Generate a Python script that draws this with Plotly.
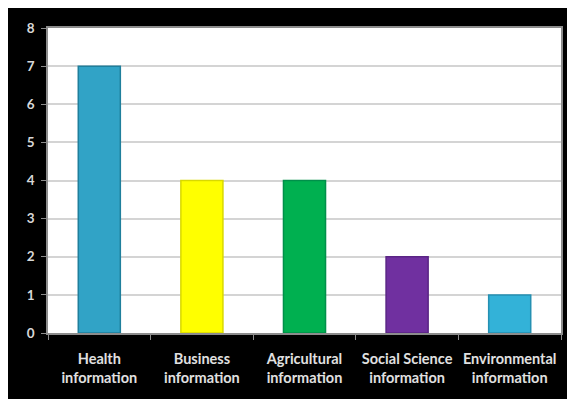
import plotly.graph_objects as go

categories = ["Health<br>information", "Business<br>information", "Agricultural<br>information",
              "Social Science<br>information", "Environmental<br>information"]
values = [7, 4, 4, 2, 1]
colors = ["#31a3c6", "#ffff00", "#00b050", "#7030a0", "#33b2d8"]
edge_colors = ["#1f7f9c", "#d9d900", "#00904a", "#5a2585", "#2590b2"]
y_ticks = [0, 1, 2, 3, 4, 5, 6, 7, 8]

# page body has an 8px margin; figure fills the rest of the window
W, H = 567, 391
L, R, T, B = 40, 13, 16, 66

fig = go.Figure(go.Bar(
    x=categories, y=values,
    marker=dict(color=colors, line=dict(color=edge_colors, width=1.5)),
))

fig.update_layout(
    width=W, height=H,
    margin=dict(l=L, r=R, t=T, b=B),
    paper_bgcolor="black",
    plot_bgcolor="white",
    bargap=0.59,
    showlegend=False,
    font=dict(family="Lato", color="#e0e0e0", size=14),
)
fig.update_xaxes(
    showline=True, linecolor="#8c8c8c", linewidth=1.5, mirror=True,
    ticks="outside", tickson="boundaries", ticklen=5, tickcolor="#8c8c8c",
    tickfont=dict(family="Lato", size=14.5, color="#e0e0e0", weight="bold"),
    ticklabelstandoff=12,
    showgrid=False,
)
fig.update_yaxes(
    range=[0, 8], tickvals=y_ticks,
    showline=True, linecolor="#8c8c8c", linewidth=1.5, mirror=True,
    ticks="outside", ticklen=5, tickcolor="#8c8c8c",
    tickfont=dict(family="Lato", size=13.5, color="#d8d8d8", weight="bold"),
    ticklabelstandoff=4,
    gridcolor="#d4d4d4", gridwidth=2, zeroline=False,
)

fig.write_html("out.html")
